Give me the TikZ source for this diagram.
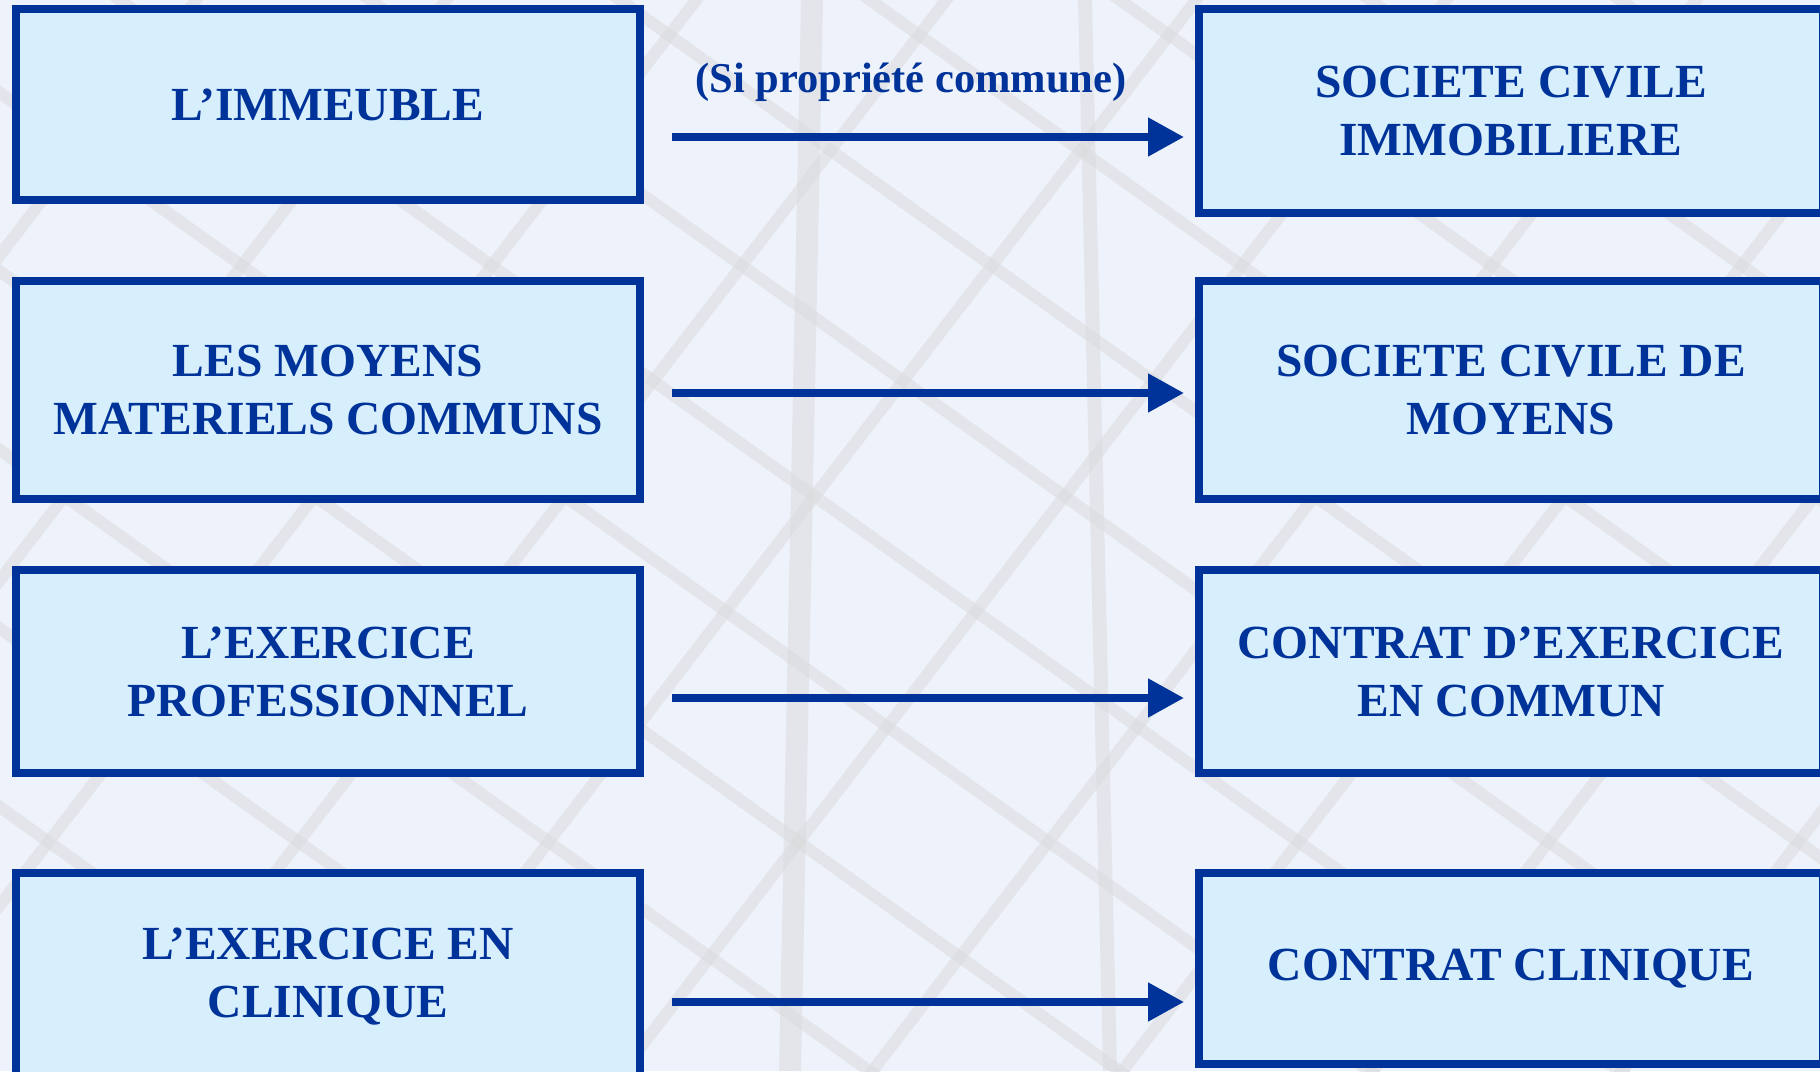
\documentclass[tikz,border=0pt]{standalone}
\usepackage{fontspec}
\setmainfont{Liberation Serif}
\usetikzlibrary{arrows.meta}
\definecolor{dblue}{HTML}{003399}
\definecolor{lblue}{HTML}{D7EEFC}
\definecolor{bgc}{HTML}{EEF2FA}
\definecolor{latt}{HTML}{D9DADC}
\tikzset{
  box/.style={draw=dblue, fill=lblue, line width=8pt, minimum width=624pt,
    inner sep=0pt, align=center, text=dblue,
    font=\bfseries\fontsize{47.5}{58}\selectfont},
  arr/.style={draw=dblue, line width=8pt,
    -{Triangle[length=36pt,width=37pt]}},
  lbl/.style={text=dblue, font=\bfseries\fontsize{42.5}{50}\selectfont, inner sep=0pt},
  beam/.style={draw=latt, line width=12pt, opacity=0.5}
}
\begin{document}
\begin{tikzpicture}[x=1pt,y=-1pt]
\useasboundingbox (0,0) rectangle (1820,1071);
\fill[bgc] (0,0) rectangle (1820,1071);
\begin{scope}
\clip (0,0) rectangle (1820,1071);
\foreach \s in {-900,-650,-400,-150,100,350,600,850,1100,1350,1600,1850}
  \draw[beam] (\s,1100) -- ++(1000,-1300);
\foreach \s in {-1200,-950,-700,-450,-200,50,300,550,800,1050,1300,1550}
  \draw[beam] (\s,-50) -- ++(2100,1500);
\draw[beam, line width=22pt] (812,0) -- (790,1071);
\draw[beam, line width=14pt] (1085,0) -- (1110,1071);
\end{scope}

\node[box, minimum height=191pt] (L1) at (328,104.5) {L’IMMEUBLE};
\node[box, minimum height=218pt] (L2) at (328,390) {LES MOYENS\\MATERIELS COMMUNS};
\node[box, minimum height=203pt] (L3) at (328,671.5) {L’EXERCICE\\PROFESSIONNEL};
\node[box, minimum height=208pt] (L4) at (328,977) {L’EXERCICE EN\\CLINIQUE};

\node[box, minimum height=204pt] (R1) at (1511,111) {SOCIETE CIVILE\\IMMOBILIERE};
\node[box, minimum height=218pt] (R2) at (1511,390) {SOCIETE CIVILE DE\\MOYENS};
\node[box, minimum height=203pt] (R3) at (1511,671.5) {CONTRAT D’EXERCICE\\EN COMMUN};
\node[box, minimum height=191pt] (R4) at (1511,968.5) {CONTRAT CLINIQUE};

\coordinate (a1) at (900,137);
\coordinate (a2) at (900,393);
\coordinate (a3) at (900,698);
\coordinate (a4) at (900,1002);

\draw[arr, shorten <=28pt, shorten >=11pt] (L1.east |- a1) -- (R1.west |- a1);
\draw[arr, shorten <=28pt, shorten >=11pt] (L2.east |- a2) -- (R2.west |- a2);
\draw[arr, shorten <=28pt, shorten >=11pt] (L3.east |- a3) -- (R3.west |- a3);
\draw[arr, shorten <=28pt, shorten >=11pt] (L4.east |- a4) -- (R4.west |- a4);

\node[lbl] (lab) at (911,82) {(Si propriété commune)};
\end{tikzpicture}
\end{document}
